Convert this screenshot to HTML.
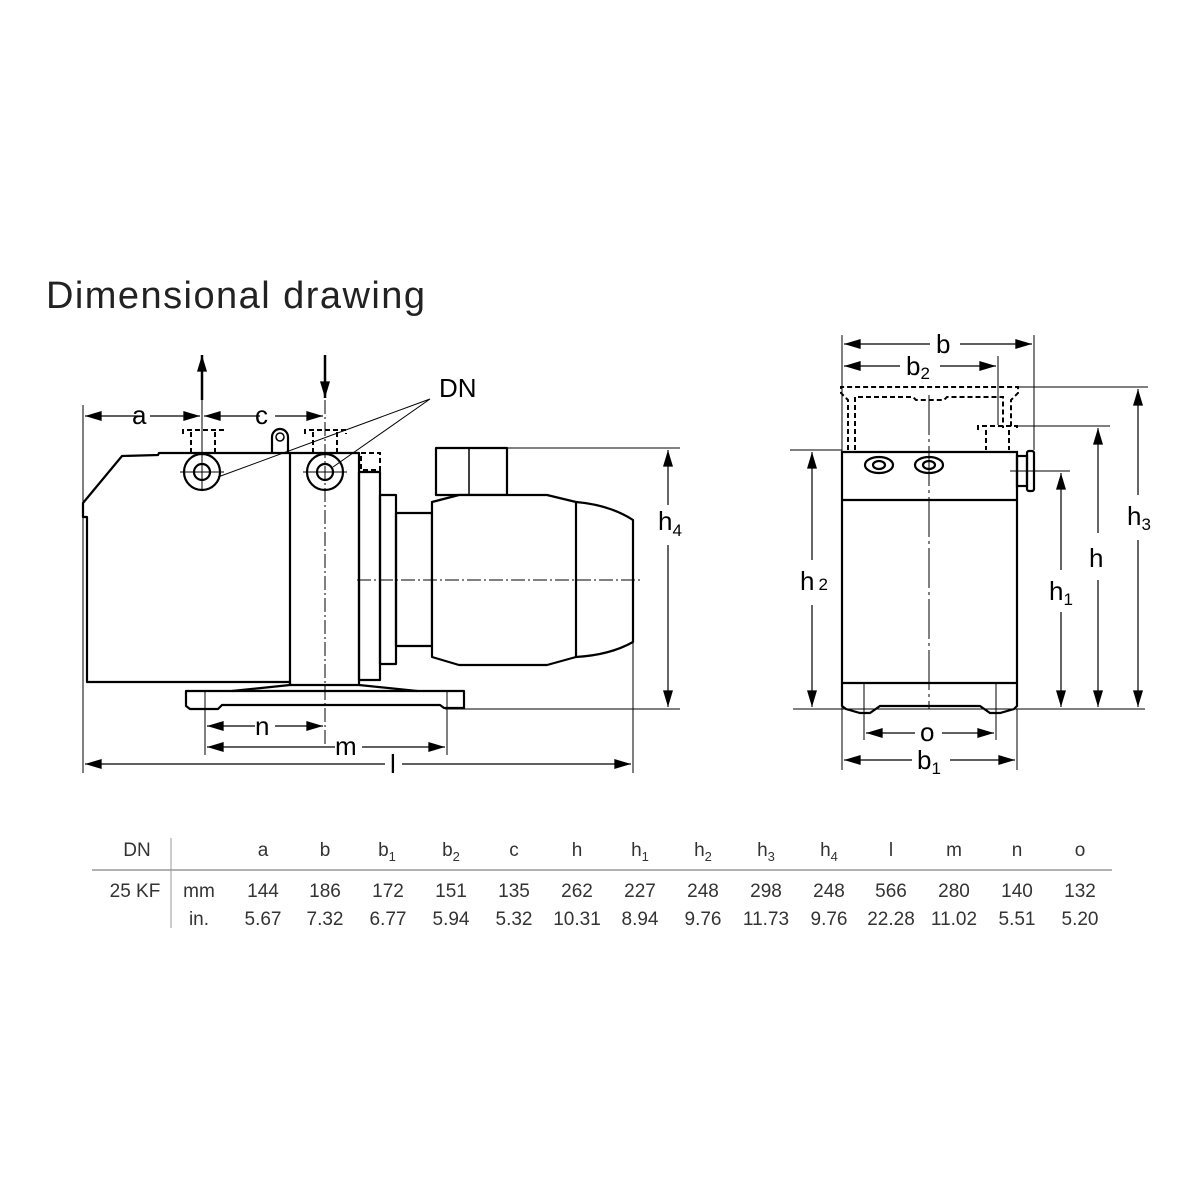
<!DOCTYPE html>
<html><head><meta charset="utf-8"><style>body{margin:0;background:#fff}svg{display:block}</style></head><body>
<svg width="1200" height="1200" viewBox="0 0 1200 1200" xmlns="http://www.w3.org/2000/svg" font-family="Liberation Sans, sans-serif">
<defs>
<marker id="ar" viewBox="0 0 10 6" refX="10" refY="3" markerWidth="28" markerHeight="10" markerUnits="userSpaceOnUse" orient="auto-start-reverse"><path d="M0,0 L10,3 L0,6 Z" fill="#000"/></marker>
</defs>
<text x="46" y="308" font-size="38" fill="#222" textLength="379">Dimensional drawing</text>

<g fill="none" stroke="#000" stroke-width="2.2" stroke-linejoin="round">
<!-- left pump body -->
<path d="M83,517 L83,503 L122,456 L158,455 L159,453 L359,453 L359,685 L290,685 L290,682 L87,682 L87,517 Z"/>
<line x1="290" y1="453" x2="290" y2="685"/>
<rect x="359" y="472" width="21" height="208"/>
<rect x="380" y="495" width="16" height="169"/>
<rect x="396" y="513" width="36" height="133"/>
<rect x="436" y="448" width="71" height="47"/>
<line x1="469" y1="448" x2="469" y2="495" stroke-width="1.5"/>
<path d="M432,502 L459,495 L547,495 L576,502 L576,657 L547,665 L459,665 L432,657 Z" fill="#fff"/>
<path d="M576,502 Q610,505 633,520 L633,642 Q610,655 576,657"/>
<!-- base -->
<path d="M186,691 L464,691 L464,708 L444,708 L440,705 L222,705 L218,709 L190,709 L186,706 Z"/>
<path d="M232,691 L290,685 M359,685 L417,691"/>
<!-- ports -->
<circle cx="202" cy="472" r="18"/><circle cx="202" cy="472" r="8"/>
<circle cx="325" cy="472" r="18"/><circle cx="325" cy="472" r="8"/>
<!-- lifting eye -->
<path d="M272,453 L272,437 A8,8 0 1 1 288,437 L288,453"/>
<circle cx="280" cy="437" r="4" stroke-width="1.5"/>
</g>
<g fill="none" stroke="#000" stroke-width="2" stroke-dasharray="5,3">
<path d="M183,434 L183,430 L223,430 L223,434"/><path d="M191,432 L191,453 M215,432 L215,453"/>
<path d="M305,434 L305,430 L346,430 L346,434"/><path d="M313,432 L313,453 M337,432 L337,453"/>
<rect x="361" y="453" width="19" height="17"/>
</g>
<g fill="none" stroke="#000" stroke-width="1">
<line x1="83" y1="405" x2="83" y2="773"/>
<line x1="633" y1="535" x2="633" y2="773"/>
<line x1="205" y1="691" x2="205" y2="755"/>
<line x1="447" y1="691" x2="447" y2="755"/>
<line x1="202" y1="400" x2="202" y2="490"/>
<line x1="325" y1="400" x2="325" y2="745" stroke-dasharray="14,3,2,3"/>
<line x1="180" y1="472" x2="224" y2="472"/><line x1="303" y1="472" x2="347" y2="472"/>
<line x1="357" y1="580" x2="640" y2="580" stroke-dasharray="14,3,2,3"/>
<line x1="507" y1="448" x2="680" y2="448"/>
<line x1="445" y1="709" x2="680" y2="709"/>
<path d="M430,399 L218,477 M430,399 L333,467"/>
</g>
<g stroke="#000" stroke-width="1.2" marker-end="url(#ar)" fill="none">
<line x1="140" y1="416" x2="85" y2="416"/><line x1="150" y1="416" x2="200" y2="416"/>
<line x1="260" y1="416" x2="204" y2="416"/><line x1="275" y1="416" x2="323" y2="416"/>
<line x1="202" y1="400" x2="202" y2="355" stroke-width="2.5"/>
<line x1="325" y1="355" x2="325" y2="398" stroke-width="2.5"/>
<line x1="255" y1="726" x2="207" y2="726"/><line x1="275" y1="726" x2="323" y2="726"/>
<line x1="335" y1="747" x2="207" y2="747"/><line x1="362" y1="747" x2="445" y2="747"/>
<line x1="385" y1="764" x2="85" y2="764"/><line x1="402" y1="764" x2="631" y2="764"/>
<line x1="668" y1="505" x2="668" y2="450"/><line x1="668" y1="545" x2="668" y2="707"/>
</g>
<g font-size="26" fill="#000">
<text x="132" y="424">a</text><text x="255" y="424">c</text>
<text x="439" y="397">DN</text>
<text x="255" y="735">n</text><text x="335" y="755">m</text><text x="390" y="773">l</text>
<text x="658" y="530">h<tspan font-size="17" dy="6">4</tspan></text>
</g>

<!-- right view -->
<g fill="none" stroke="#000" stroke-width="2.2">
<path d="M842,452 L842,706 L846,709 L860,713 L870,713 L880,706 L980,706 L990,713 L1000,713 L1014,709 L1017,706 L1017,452 Z"/>
<line x1="842" y1="500" x2="1017" y2="500"/>
<line x1="842" y1="683" x2="1017" y2="683"/>
<ellipse cx="879" cy="465" rx="14" ry="8"/><ellipse cx="879" cy="465" rx="6" ry="4"/>
<ellipse cx="929" cy="465" rx="14" ry="8"/><ellipse cx="929" cy="465" rx="6" ry="4"/>
<rect x="1017" y="456" width="10" height="30"/>
<rect x="1027" y="451" width="7" height="40" rx="2"/>
</g>
<g fill="none" stroke="#000" stroke-width="2" stroke-dasharray="5,3">
<path d="M848,450 L848,400 L841,393 L841,387 L1018,387 L1018,393 L1011,400 L1011,428"/>
<path d="M855,450 L855,397 L913,397 L916,400 L944,400 L947,397 L1003,397 L1003,428"/>
<path d="M978,430 L978,426 L1017,426 L1017,430"/>
<path d="M986,430 L986,450 M1009,430 L1009,450"/>
</g>
<g fill="none" stroke="#000" stroke-width="1">
<line x1="842" y1="335" x2="842" y2="770"/>
<line x1="1034" y1="335" x2="1034" y2="450"/>
<line x1="998" y1="356" x2="998" y2="425"/>
<line x1="929" y1="395" x2="929" y2="709" stroke-dasharray="40,4,3,4"/>
<line x1="790" y1="450" x2="842" y2="450"/>
<line x1="793" y1="709" x2="1145" y2="709"/>
<line x1="1010" y1="471" x2="1070" y2="471"/>
<line x1="1017" y1="426" x2="1110" y2="426"/>
<line x1="1018" y1="387" x2="1148" y2="387"/>
<line x1="864" y1="683" x2="864" y2="740"/>
<line x1="996" y1="683" x2="996" y2="740"/>
<line x1="1017" y1="709" x2="1017" y2="770"/>
</g>
<g stroke="#000" stroke-width="1.2" marker-end="url(#ar)" fill="none">
<line x1="930" y1="344" x2="844" y2="344"/><line x1="960" y1="344" x2="1032" y2="344"/>
<line x1="900" y1="366" x2="844" y2="366"/><line x1="940" y1="366" x2="996" y2="366"/>
<line x1="812" y1="560" x2="812" y2="452"/><line x1="812" y1="605" x2="812" y2="707"/>
<line x1="1061" y1="570" x2="1061" y2="473"/><line x1="1061" y1="612" x2="1061" y2="707"/>
<line x1="1098" y1="533" x2="1098" y2="428"/><line x1="1098" y1="580" x2="1098" y2="707"/>
<line x1="1138" y1="495" x2="1138" y2="389"/><line x1="1138" y1="540" x2="1138" y2="707"/>
<line x1="915" y1="733" x2="866" y2="733"/><line x1="942" y1="733" x2="994" y2="733"/>
<line x1="912" y1="760" x2="844" y2="760"/><line x1="950" y1="760" x2="1015" y2="760"/>
</g>
<g font-size="26" fill="#000">
<text x="936" y="353">b</text>
<text x="906" y="375">b<tspan font-size="17" dy="4">2</tspan></text>
<text x="800" y="590">h<tspan font-size="17" dx="4">2</tspan></text>
<text x="1049" y="600">h<tspan font-size="17" dy="5">1</tspan></text>
<text x="1089" y="567">h</text>
<text x="1127" y="525">h<tspan font-size="17" dy="5">3</tspan></text>
<text x="920" y="741">o</text>
<text x="917" y="769">b<tspan font-size="17" dy="5">1</tspan></text>
</g>

<!-- table -->
<line x1="92" y1="870" x2="1112" y2="870" stroke="#999" stroke-width="1.5"/>
<line x1="171" y1="838" x2="171" y2="928" stroke="#999" stroke-width="1"/>
<g font-size="19" fill="#333" text-anchor="middle">
<text x="137" y="856">DN</text>
<text x="263" y="856">a</text><text x="325" y="856">b</text>
<text x="387" y="856">b<tspan font-size="13" dy="5">1</tspan></text>
<text x="451" y="856">b<tspan font-size="13" dy="5">2</tspan></text>
<text x="514" y="856">c</text><text x="577" y="856">h</text>
<text x="640" y="856">h<tspan font-size="13" dy="5">1</tspan></text>
<text x="703" y="856">h<tspan font-size="13" dy="5">2</tspan></text>
<text x="766" y="856">h<tspan font-size="13" dy="5">3</tspan></text>
<text x="829" y="856">h<tspan font-size="13" dy="5">4</tspan></text>
<text x="891" y="856">l</text><text x="954" y="856">m</text><text x="1017" y="856">n</text><text x="1080" y="856">o</text>
<text x="135" y="897">25 KF</text><text x="199" y="897">mm</text>
<text x="263" y="897">144</text><text x="325" y="897">186</text><text x="388" y="897">172</text><text x="451" y="897">151</text><text x="514" y="897">135</text><text x="577" y="897">262</text><text x="640" y="897">227</text><text x="703" y="897">248</text><text x="766" y="897">298</text><text x="829" y="897">248</text><text x="891" y="897">566</text><text x="954" y="897">280</text><text x="1017" y="897">140</text><text x="1080" y="897">132</text>
<text x="199" y="925">in.</text>
<text x="263" y="925">5.67</text><text x="325" y="925">7.32</text><text x="388" y="925">6.77</text><text x="451" y="925">5.94</text><text x="514" y="925">5.32</text><text x="577" y="925">10.31</text><text x="640" y="925">8.94</text><text x="703" y="925">9.76</text><text x="766" y="925">11.73</text><text x="829" y="925">9.76</text><text x="891" y="925">22.28</text><text x="954" y="925">11.02</text><text x="1017" y="925">5.51</text><text x="1080" y="925">5.20</text>
</g>
</svg>
</body></html>
